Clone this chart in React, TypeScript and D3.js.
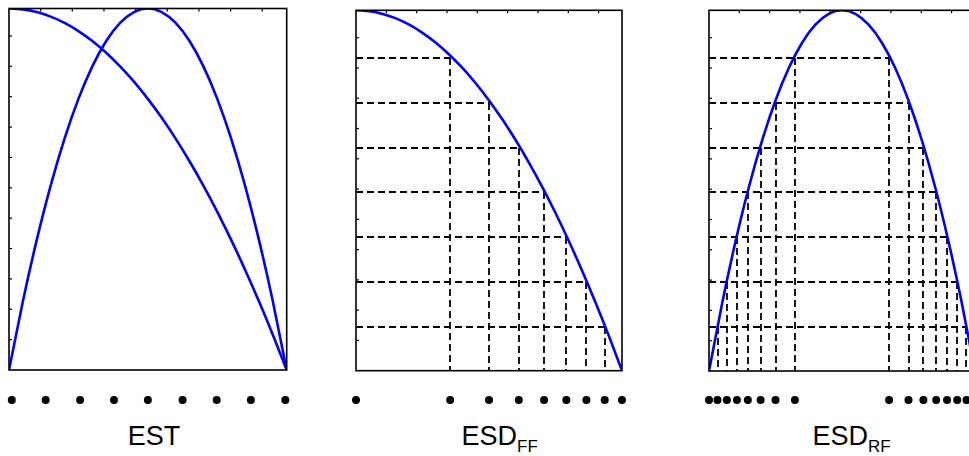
import React from "react";
import * as d3 from "d3";

// ---- data ----
const curveX = [0, 0.05, 0.1, 0.15, 0.2, 0.25, 0.3, 0.35, 0.4, 0.45, 0.5, 0.55, 0.6, 0.65, 0.7, 0.75, 0.8, 0.85, 0.9, 0.95, 1];
const fallCurve = [1, 0.9975, 0.99, 0.9775, 0.96, 0.9375, 0.91, 0.8775, 0.84, 0.7975, 0.75, 0.6975, 0.64, 0.5775, 0.51, 0.4375, 0.36, 0.2775, 0.19, 0.0975, 0];
const archCurve = [0, 0.19, 0.36, 0.51, 0.64, 0.75, 0.84, 0.91, 0.96, 0.99, 1, 0.99, 0.96, 0.91, 0.84, 0.75, 0.64, 0.51, 0.36, 0.19, 0];

const estDots = [0.01, 0.132, 0.256, 0.378, 0.5, 0.625, 0.748, 0.871, 0.995];
const levels = [0.868, 0.744, 0.619, 0.497, 0.372, 0.247, 0.122];
const ffCross = [0.354, 0.5, 0.612, 0.707, 0.791, 0.866, 0.935];
const rfLeft = [0.323, 0.25, 0.194, 0.146, 0.105, 0.067, 0.032];
const rfRight = [0.677, 0.75, 0.806, 0.854, 0.895, 0.933, 0.968];

const xTicks = [0.114, 0.228, 0.342, 0.456, 0.57, 0.684, 0.798, 0.912];
const yTicks = [0.084, 0.168, 0.252, 0.336, 0.42, 0.504, 0.588, 0.672, 0.756, 0.84, 0.924];

const labels = ["EST", "ESD", "ESD"];
const subLabels = ["", "FF", "RF"];

// ---- layout ----
const W = 969;
const H = 456;
const panels = [
  { x0: 9, x1: 286.7, y0: 8.5, y1: 370, labelX: 154, anchor: "middle" },
  { x0: 356, x1: 622, y0: 10.3, y1: 370.7, labelX: 461.5, anchor: "start" },
  { x0: 709, x1: 975, y0: 10.3, y1: 371, labelX: 812.5, anchor: "start" },
];
const BLUE = "#0000ff";
const DOT_Y = 400;

function Panel({ idx }: { idx: number }) {
  const p = panels[idx];
  const xs = d3.scaleLinear().domain([0, 1]).range([p.x0, p.x1]);
  const ys = d3.scaleLinear().domain([0, 1]).range([p.y1, p.y0]);
  const line = d3
    .line<number>()
    .x((_, i) => xs(curveX[i]))
    .y((d) => ys(d))
    .curve(d3.curveNatural);

  const clipId = `clip${idx}`;
  const dash = { stroke: "#000", strokeWidth: 1.8, strokeDasharray: "7 4", fill: "none" };
  const rx = (v: number) => Math.round(xs(v));
  const ry = (v: number) => Math.round(ys(v));

  let dashed: React.ReactNode[] = [];
  let dots: number[] = [];
  let curves: number[][] = [];

  if (idx === 0) {
    curves = [fallCurve, archCurve];
    dots = estDots;
  } else if (idx === 1) {
    curves = [fallCurve];
    levels.forEach((lv, i) => {
      dashed.push(<line key={`h${i}`} x1={rx(0)} x2={rx(ffCross[i])} y1={ry(lv)} y2={ry(lv)} {...dash} />);
      dashed.push(<line key={`v${i}`} x1={rx(ffCross[i])} x2={rx(ffCross[i])} y1={ry(lv)} y2={ry(0)} {...dash} />);
    });
    dots = [0, ...ffCross, 1];
  } else {
    curves = [archCurve];
    levels.forEach((lv, i) => {
      dashed.push(<line key={`h${i}`} x1={rx(0)} x2={rx(rfRight[i])} y1={ry(lv)} y2={ry(lv)} {...dash} />);
      dashed.push(<line key={`vl${i}`} x1={rx(rfLeft[i])} x2={rx(rfLeft[i])} y1={ry(lv)} y2={ry(0)} {...dash} />);
      dashed.push(<line key={`vr${i}`} x1={rx(rfRight[i])} x2={rx(rfRight[i])} y1={ry(lv)} y2={ry(0)} {...dash} />);
    });
    dots = [0, ...rfLeft, ...rfRight, 1];
  }

  return (
    <g>
      <defs>
        <clipPath id={clipId}>
          <rect x={p.x0} y={p.y0} width={p.x1 - p.x0} height={p.y1 - p.y0} />
        </clipPath>
      </defs>
      {dashed}
      <g clipPath={`url(#${clipId})`}>
        {curves.map((c, i) => (
          <path key={i} d={line(c) || ""} fill="none" stroke={BLUE} strokeWidth={2.6} />
        ))}
      </g>
      {xTicks.map((t, i) => (
        <line key={`xt${i}`} x1={xs(t)} x2={xs(t)} y1={p.y0} y2={p.y0 + 3} stroke="#000" strokeWidth={1.2} />
      ))}
      {yTicks.map((t, i) => (
        <line key={`yt${i}`} x1={p.x0} x2={p.x0 + 3} y1={ys(t)} y2={ys(t)} stroke="#000" strokeWidth={1.2} />
      ))}
      <rect x={p.x0} y={p.y0} width={p.x1 - p.x0} height={p.y1 - p.y0} fill="none" stroke="#000" strokeWidth={1.6} />
      {dots.map((d, i) => (
        <circle key={`d${i}`} cx={xs(d)} cy={DOT_Y} r={4} fill="#000" />
      ))}
      <text
        x={p.labelX}
        y={444.5}
        textAnchor={p.anchor as any}
        fontFamily="'Liberation Sans', Arial, sans-serif"
        fontSize={27}
        fill="#000"
      >
        {labels[idx]}
        {subLabels[idx] && (
          <tspan fontSize={17} dy={7}>
            {subLabels[idx]}
          </tspan>
        )}
      </text>
    </g>
  );
}

export default function App() {
  return (
    <svg
      width={W}
      height={H}
      style={{ position: "absolute", left: 0, top: 0, background: "#fff" }}
    >
      <rect x={0} y={0} width={W} height={H} fill="#fff" />
      {[0, 1, 2].map((i) => (
        <Panel key={i} idx={i} />
      ))}
    </svg>
  );
}
